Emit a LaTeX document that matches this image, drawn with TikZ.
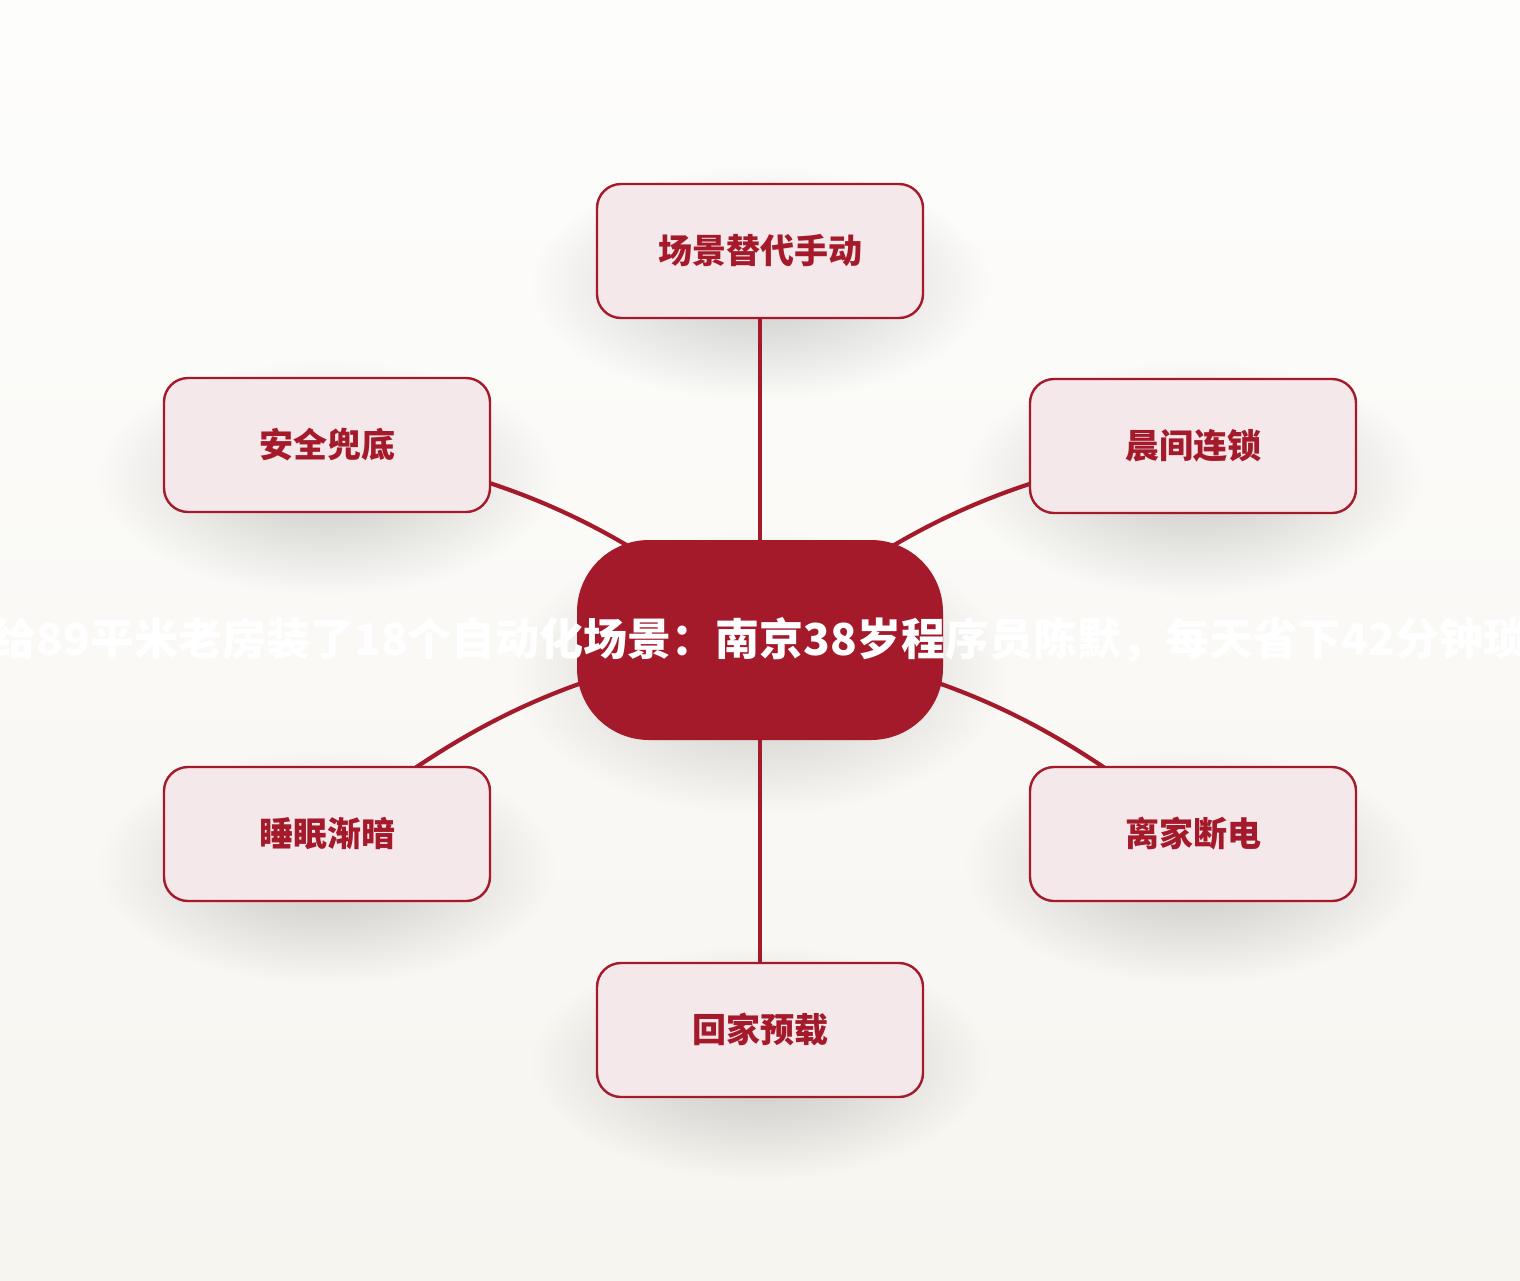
\documentclass[tikz,border=0pt]{standalone}
\usepackage{fontspec}
\newfontfamily\cjk{Noto Sans CJK SC}
\usetikzlibrary{fadings}
\definecolor{scenered}{HTML}{A51A2B}
\definecolor{scenepink}{HTML}{F5E8EB}
\definecolor{bgtop}{HTML}{FDFDFC}
\definecolor{bgbottom}{HTML}{F7F5F0}
\tikzfading[name=sceneglow,inner color=transparent!0,outer color=transparent!100]
\pgfdeclarelayer{back}
\pgfsetlayers{back,main}
\begin{document}
\begin{tikzpicture}[x=0.5pt,y=-0.5pt,
  scene/.style={draw=scenered,line width=1.2pt,fill=scenepink,rounded corners=12pt,
    minimum width=163pt,minimum height=67pt,text=scenered,
    font=\cjk\bfseries\fontsize{17pt}{20pt}\selectfont},
  hubnode/.style={fill=scenered,rounded corners=36pt,inner sep=0pt,
    minimum width=183pt,minimum height=100pt},
  glow/.style={fill=black,fill opacity=0.2,path fading=sceneglow},
  branch/.style={draw=scenered,line width=2.1pt}]

\useasboundingbox (0,0) rectangle (1520,1280);

\node (hub) at (760,640) [hubnode] {};
\node (manual) at (760,251) [scene] {场景替代手动};
\node (morning) at (1193,446) [scene] {晨间连锁};
\node (leave) at (1193,834) [scene] {离家断电};
\node (home) at (760,1030) [scene] {回家预载};
\node (sleep) at (327,834) [scene] {睡眠渐暗};
\node (safety) at (327,445) [scene] {安全兜底};
\node (title) at (hub) [text=white,font=\cjk\bfseries\fontsize{22pt}{25pt}\selectfont] {给89平米老房装了18个自动化场景：南京38岁程序员陈默，每天省下42分钟琐};

\begin{pgfonlayer}{back}
\fill [top color=bgtop,bottom color=bgbottom] (0,0) rectangle (1520,1280);
% soft shadows
\fill [glow,shift={(hub)}] (-250,-110) rectangle (250,175);
\fill [glow,shift={(manual)}] (-230,-85) rectangle (230,150);
\fill [glow,shift={(morning)}] (-230,-85) rectangle (230,150);
\fill [glow,shift={(leave)}] (-230,-85) rectangle (230,150);
\fill [glow,shift={(home)}] (-230,-85) rectangle (230,150);
\fill [glow,shift={(sleep)}] (-230,-85) rectangle (230,150);
\fill [glow,shift={(safety)}] (-230,-85) rectangle (230,150);
% branches
\draw [branch] (hub.center) -- (manual.center);
\draw [branch] (hub.center) to[bend left=15] (morning.center);
\draw [branch] (hub.center) to[bend left=15] (leave.center);
\draw [branch] (hub.center) -- (home.center);
\draw [branch] (hub.center) to[bend right=15] (sleep.center);
\draw [branch] (hub.center) to[bend right=15] (safety.center);
\end{pgfonlayer}
\end{tikzpicture}
\end{document}
